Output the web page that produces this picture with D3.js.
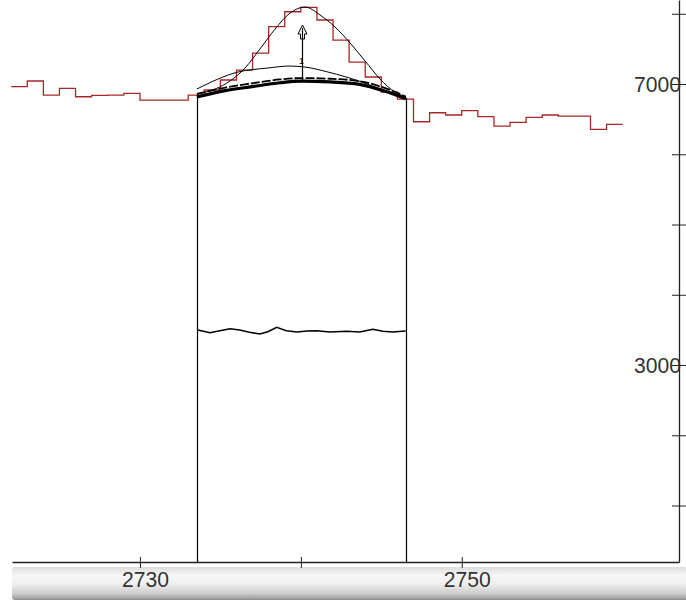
<!DOCTYPE html>
<html>
<head>
<meta charset="utf-8">
<script src="https://cdn.jsdelivr.net/npm/d3@7"></script>
<style>
html,body{margin:0;padding:0;background:#fff;}
svg{display:block;}
text{font-family:"Liberation Sans",Arial,sans-serif;fill:#333;}
</style>
</head>
<body>
<script>
// ---- data ----
// spectrum histogram (bin start, counts)
const binStarts = [2722,2723,2724,2725,2726,2727,2728,2729,2730,2731,2732,2733,2734,2735,2736,2737,2738,2739,2740,2741,2742,2743,2744,2745,2746,2747,2748,2749,2750,2751,2752,2753,2754,2755,2756,2757,2758,2759];
const binCounts = [6962,7043,6843,6939,6819,6839,6843,6868,6772,6772,6772,6843,6915,7057,7199,7441,7817,8029,8092,7911,7626,7313,7100,6886,6786,6463,6591,6559,6620,6535,6402,6455,6526,6559,6544,6544,6355,6426];
const binEnd = 2760;

// gaussian peak fit curve
const fitX = [2733.55,2734.67,2735.6,2736.53,2737.46,2738.40,2739.33,2740.26,2741.19,2742.12,2743.06,2743.99,2744.92,2745.85,2746.54];
const fitY = [6858,6929,7043,7228,7499,7783,8011,8096,7983,7812,7584,7328,7072,6886,6815];

// thin background arc (peak 1)
const arcX = [2733.54,2736.1,2737.95,2739.3,2740.25,2741.68,2743.79,2745.4,2746.46];
const arcY = [6929,7171,7228,7256,7242,7171,7028,6886,6786];

// baseline band (upper line and lower thick line)
const bandX = [2733.54,2735.3,2736.96,2738.7,2740.06,2741.8,2743.66,2745.2,2746.52];
const bandUpper = [6858,6950,7010,7065,7085,7075,7040,6945,6820];
const bandLower = [6815,6905,6962,7018,7040,7030,6995,6900,6790];

// peak region limits
const limitX = [2733.54, 2746.52];
const limitY = [6843, 6800];

// residual / noise trace
const midX = [2733.6,2734.35,2734.97,2735.6,2736.2,2736.8,2737.45,2737.95,2738.5,2739.1,2739.75,2740.4,2741.0,2741.8,2742.85,2743.66,2744.47,2745.1,2745.7,2746.52];
const midY = [3498,3460,3488,3517,3498,3466,3441,3475,3537,3488,3470,3484,3488,3470,3480,3470,3508,3480,3470,3484];

// peak marker
const markerX = 2740.1;
const markerTop = 7840;
const markerBase = 7057;
const markerLabel = "1";
const markerLabelY = 7330;

// axes
const xTicks = [2730, 2740, 2750];
const xLabels = ["2730", "", "2750"];
const yTicks = [1000,2000,3000,4000,5000,6000,7000,8000];
const yLabels = ["", "", "3000", "", "", "", "7000", ""];

// ---- chart ----
const W = 686, H = 607;
const svg = d3.select("body").append("svg").attr("width", W).attr("height", H);

const x = d3.scaleLinear().domain([2722.05, 2763.5]).range([12, 679]);
const y = d3.scaleLinear().domain([196, 8196]).range([562, 0]);

// gradient band under the x axis
const defs = svg.append("defs");
const g = defs.append("linearGradient").attr("id","band").attr("x1",0).attr("y1",0).attr("x2",0).attr("y2",1);
[[0,"#dcdcdc"],[0.25,"#f6f6f6"],[0.5,"#f0f0f0"],[0.8,"#cdcdcd"],[0.93,"#a9a9a9"],[1,"#8c8c8c"]]
  .forEach(([o,c]) => g.append("stop").attr("offset",o).attr("stop-color",c));
svg.append("rect").attr("x", x.range()[0]).attr("y", 567).attr("width", W - x.range()[0] + 4).attr("height", 33)
  .attr("rx", 3).attr("fill", "url(#band)");

// histogram (red steps)
const histPts = binStarts.map((b,i) => [b, binCounts[i]]);
histPts.push([binEnd, binCounts[binCounts.length-1]]);
svg.append("path").datum(histPts)
  .attr("d", d3.line().x(d => x(d[0])).y(d => y(d[1])).curve(d3.curveStepAfter))
  .attr("fill","none").attr("stroke","#a8262a").attr("stroke-width",1.3);

const smooth = d3.line().x(d => x(d[0])).y(d => y(d[1])).curve(d3.curveMonotoneX);
const smoothB = d3.line().x(d => x(d[0])).y(d => y(d[1])).curve(d3.curveBasis);

// band
svg.append("path").datum(bandX.map((v,i)=>[v,bandLower[i]])).attr("d", smooth)
  .attr("fill","none").attr("stroke","#000").attr("stroke-width",3.2);
svg.append("path").datum(bandX.map((v,i)=>[v,bandUpper[i]])).attr("d", smooth)
  .attr("fill","none").attr("stroke","#000").attr("stroke-width",1.8).attr("stroke-dasharray","9,2");

// thin arc
svg.append("path").datum(arcX.map((v,i)=>[v,arcY[i]])).attr("d", smooth)
  .attr("fill","none").attr("stroke","#000").attr("stroke-width",1);

// fit curve
svg.append("path").datum(fitX.map((v,i)=>[v,fitY[i]])).attr("d", smooth)
  .attr("fill","none").attr("stroke","#000").attr("stroke-width",1);

// limit lines
limitX.forEach((v,i) => {
  svg.append("line").attr("x1", Math.round(x(v))+0.5).attr("x2", Math.round(x(v))+0.5)
    .attr("y1", y(limitY[i])).attr("y2", y.range()[0])
    .attr("stroke","#000").attr("stroke-width",1.2);
});

// noise trace
svg.append("path").datum(midX.map((v,i)=>[v,midY[i]]))
  .attr("d", d3.line().x(d=>x(d[0])).y(d=>y(d[1])))
  .attr("fill","none").attr("stroke","#000").attr("stroke-width",1.6);

// marker arrow
const mx = Math.round(x(markerX)) + 0.5, mt = y(markerTop), mb = y(markerBase);
svg.append("line").attr("x1",mx).attr("x2",mx).attr("y1",mt+3).attr("y2",mb)
  .attr("stroke","#000").attr("stroke-width",1.2);
svg.append("path")
  .attr("d", `M${mx},${mt} L${mx-4.5},${mt+9} L${mx-2},${mt+9} L${mx-2},${mt+14} L${mx+2},${mt+14} L${mx+2},${mt+9} L${mx+4.5},${mt+9} Z`)
  .attr("fill","none").attr("stroke","#000").attr("stroke-width",1);
svg.append("text").attr("x", mx - 1).attr("y", y(markerLabelY)+3).attr("text-anchor","middle")
  .style("font-size","9px").style("fill","#000").text(markerLabel);

// bottom axis
const xAxis = svg.append("g").attr("transform", `translate(0,${y.range()[0]})`)
  .call(d3.axisBottom(x).tickValues(xTicks).tickFormat((d,i)=>xLabels[i]).tickSizeOuter(0));
xAxis.select(".domain").attr("stroke","#222").attr("stroke-width",1.3);
xAxis.selectAll(".tick line").attr("y1",-5).attr("y2",6).attr("stroke","#222");
xAxis.selectAll(".tick text").attr("y", 25).attr("dx", 5).attr("dy", 0)
  .style("font-size","22px").style("font-family","'Liberation Sans',Arial,sans-serif").attr("fill","#333")
  .attr("textLength", d => d === 2740 ? null : 47).attr("lengthAdjust","spacingAndGlyphs");

// right axis
const yAxis = svg.append("g").attr("transform", `translate(679,0)`)
  .call(d3.axisRight(y).tickValues(yTicks).tickFormat((d,i)=>yLabels[i]).tickSizeOuter(0));
yAxis.select(".domain").attr("stroke","#222").attr("stroke-width",1.3);
yAxis.selectAll(".tick line").attr("x1",-7).attr("x2",7).attr("stroke","#222");
yAxis.selectAll(".tick text").attr("x", 2).attr("text-anchor","end").attr("dy","0.36em")
  .style("font-size","22px").style("font-family","'Liberation Sans',Arial,sans-serif").attr("fill","#333")
  .filter((d,i) => yLabels[i] !== "").attr("textLength", 47).attr("lengthAdjust","spacingAndGlyphs");
yAxis.selectAll(".tick text").lower();
</script>
</body>
</html>
